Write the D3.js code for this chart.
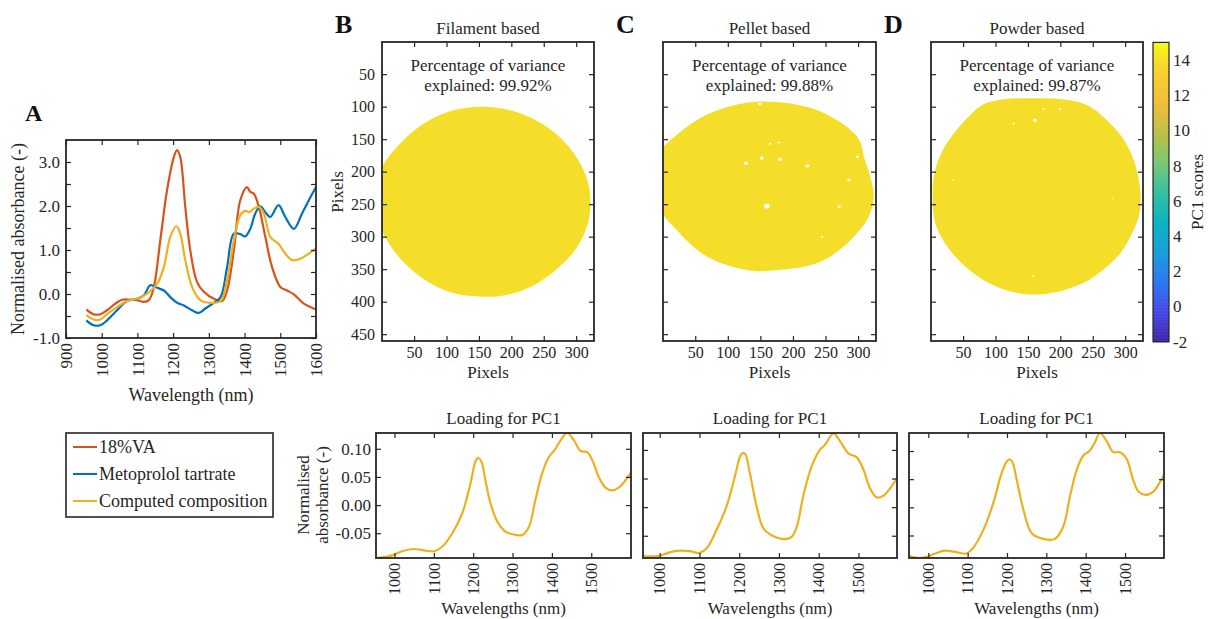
<!DOCTYPE html>
<html><head><meta charset="utf-8">
<script src="https://cdn.jsdelivr.net/npm/d3@7"></script>
<style>
html,body{margin:0;padding:0;background:#fff;}
svg{display:block;}
svg text{font-family:"Liberation Serif","DejaVu Serif",serif;}
</style></head><body>
<svg id="fig" width="1210" height="619" font-family="Liberation Serif, DejaVu Serif, serif"></svg>
<script>
// ---------------- DATA ----------------
const legendLabels = ["18%VA", "Metoprolol tartrate", "Computed composition"];
const wavelengthTicksA = [900, 1000, 1100, 1200, 1300, 1400, 1500, 1600];
const absorbanceTicksA = [-1, -0.5, 0, 0.5, 1, 1.5, 2, 2.5, 3];

const vaSpectrum = [[957,-0.35],[977,-0.46],[996,-0.46],[1015,-0.37],[1038,-0.22],[1057,-0.13],[1080,-0.13],[1099,-0.14],[1118,-0.18],[1132,-0.14],[1146,0.16],[1164,1.22],[1183,2.36],[1202,3.11],[1211,3.27],[1220,3.11],[1234,1.98],[1248,0.99],[1267,0.27],[1286,0.05],[1314,-0.11],[1337,-0.16],[1351,0.08],[1370,0.99],[1388,2.13],[1407,2.43],[1416,2.32],[1426,2.28],[1440,1.98],[1458,1.30],[1477,0.61],[1500,0.16],[1519,0.08],[1538,-0.01],[1566,-0.22],[1600,-0.35]];
const metoprololSpectrum = [[957,-0.60],[977,-0.71],[996,-0.71],[1015,-0.60],[1043,-0.37],[1071,-0.16],[1099,-0.11],[1118,-0.03],[1136,0.20],[1155,0.14],[1174,0.08],[1192,-0.07],[1211,-0.20],[1230,-0.26],[1253,-0.37],[1272,-0.43],[1290,-0.33],[1314,-0.20],[1333,-0.07],[1351,0.61],[1370,1.37],[1388,1.36],[1402,1.31],[1416,1.48],[1430,1.83],[1444,1.99],[1458,1.86],[1472,1.75],[1495,2.02],[1514,1.75],[1538,1.48],[1561,1.83],[1580,2.13],[1600,2.43]];
const computedSpectrum = [[957,-0.48],[977,-0.58],[996,-0.58],[1015,-0.46],[1043,-0.30],[1071,-0.16],[1099,-0.11],[1127,0.01],[1155,0.23],[1174,0.61],[1192,1.30],[1209,1.54],[1220,1.37],[1234,0.77],[1253,0.16],[1276,-0.14],[1304,-0.20],[1333,-0.16],[1351,0.31],[1370,1.22],[1388,1.79],[1402,1.89],[1414,1.86],[1426,1.94],[1440,1.98],[1454,1.83],[1472,1.30],[1495,1.14],[1514,0.92],[1533,0.77],[1556,0.80],[1580,0.92],[1600,1.03]];

const panelTitles = ["Filament based", "Pellet based", "Powder based"];
const panelLetters = ["B", "C", "D"];
const varianceExplained = ["99.92%", "99.88%", "99.87%"];
const pcScores = [14.0, 14.0, 14.0];
const pixelTicksX = [50, 100, 150, 200, 250, 300];
const pixelTicksY = [50, 100, 150, 200, 250, 300, 350, 400, 450];

// sample outlines (image pixel coordinates)
const filamentOutline = [[155,100],[200,106],[240,122],[275,147],[302,180],[318,215],[322,245],[318,280],[300,318],[270,350],[230,377],[190,390],[150,392],[105,385],[65,365],[30,335],[5,300],[-10,260],[-12,225],[2,190],[30,155],[65,126],[105,107]];
const pelletOutline = [[149,92],[196,95],[237,105],[268,121],[294,141],[304,156],[309,177],[317,202],[324,233],[322,253],[314,274],[299,294],[278,315],[253,333],[222,345],[180,351],[144,353],[103,345],[67,330],[41,310],[21,289],[3,269],[-10,240],[-14,210],[-10,175],[15,149],[41,128],[72,110],[108,98]];
const powderOutline = [[110,89],[148,87],[215,90],[246,100],[277,126],[298,151],[313,182],[321,212],[324,243],[321,269],[311,294],[293,325],[267,350],[236,371],[195,385],[154,389],[112,381],[76,363],[45,338],[22,310],[7,279],[3,243],[5,207],[14,177],[32,146],[62,112],[80,97]];
const filamentHoles = [];
const pelletHoles = [[128,187,2.5],[152,179,2.5],[180,181,2.5],[222,191,2.5],[160,253,3.5],[299,177,2],[286,213,2],[271,254,2],[245,300,1.5],[149,96,2],[165,157,1.5],[178,155,1.5]];
const powderHoles = [[161,121,2.5],[128,126,1.5],[199,103,1.5],[174,103,1.5],[35,213,1.2],[280,241,1.2],[158,361,1.5]];

const colorbarTicks = [-2, 0, 2, 4, 6, 8, 10, 12, 14];

const loadingTicksX = [1000, 1100, 1200, 1300, 1400, 1500];
const loadingTicksY = [-0.05, 0, 0.05, 0.10];
const loadingFilament = [[953,-0.094],[977,-0.092],[1000,-0.088],[1019,-0.082],[1049,-0.078],[1079,-0.081],[1100,-0.082],[1121,-0.074],[1147,-0.050],[1172,-0.015],[1193,0.038],[1206,0.078],[1213,0.084],[1222,0.075],[1231,0.044],[1244,0.003],[1261,-0.029],[1282,-0.047],[1308,-0.053],[1325,-0.053],[1342,-0.038],[1358,0.009],[1375,0.056],[1392,0.085],[1409,0.100],[1422,0.115],[1439,0.128],[1456,0.115],[1473,0.096],[1490,0.094],[1503,0.079],[1519,0.050],[1536,0.031],[1553,0.026],[1570,0.031],[1587,0.044],[1602,0.059]];
const loadingPellet = [[958,-0.086],[1000,-0.085],[1025,-0.079],[1050,-0.076],[1076,-0.077],[1101,-0.080],[1118,-0.072],[1143,-0.040],[1168,0.001],[1189,0.053],[1203,0.090],[1210,0.095],[1216,0.092],[1227,0.059],[1244,0.001],[1261,-0.037],[1286,-0.051],[1311,-0.056],[1332,-0.052],[1345,-0.034],[1361,0.019],[1382,0.071],[1403,0.100],[1416,0.109],[1437,0.129],[1454,0.115],[1475,0.094],[1496,0.087],[1513,0.065],[1529,0.033],[1546,0.017],[1563,0.020],[1580,0.033],[1597,0.051]];
const loadingPowder = [[951,-0.086],[979,-0.090],[1000,-0.087],[1021,-0.081],[1042,-0.077],[1068,-0.079],[1097,-0.082],[1114,-0.072],[1140,-0.040],[1165,0.007],[1186,0.060],[1200,0.082],[1207,0.085],[1214,0.080],[1225,0.048],[1242,-0.005],[1263,-0.046],[1292,-0.056],[1322,-0.056],[1343,-0.034],[1360,0.019],[1377,0.066],[1394,0.092],[1411,0.101],[1424,0.116],[1436,0.132],[1453,0.118],[1470,0.098],[1487,0.098],[1504,0.086],[1521,0.048],[1534,0.028],[1551,0.022],[1572,0.028],[1589,0.045],[1599,0.058]];

// ---------------- STYLE ----------------
const INK = "#262626";
const FONT = "'Liberation Serif', 'DejaVu Serif', serif";
const seriesColors = ["#D95319", "#0072BD", "#EDB120"];
const parulaStops = [[0.00,"#3e26a8"],[0.10,"#4648e6"],[0.20,"#2d78f0"],[0.30,"#1c9fdc"],[0.40,"#0cb4c2"],[0.50,"#35bfa0"],[0.60,"#78c872"],[0.70,"#bdc043"],[0.80,"#f4bb3b"],[0.90,"#f6d130"],[0.95,"#f5e127"],[1.00,"#f9fb0e"]];

const svg = d3.select("#fig");
let clipId = 0;

function makePanel(o) {
  const x = d3.scaleLinear().domain(o.xDomain).range([o.x0, o.x1]);
  const y = d3.scaleLinear().domain(o.yDomain).range(o.yReverse ? [o.y0, o.y1] : [o.y1, o.y0]);
  const g = svg.append("g");
  const id = "clip" + (clipId++);
  svg.append("clipPath").attr("id", id).append("rect")
    .attr("x", o.x0).attr("y", o.y0).attr("width", o.x1 - o.x0).attr("height", o.y1 - o.y0);
  const plot = g.append("g").attr("clip-path", `url(#${id})`);
  const tl = o.tickLen || 5;
  const style = sel => sel.attr("font-family", FONT).attr("color", INK).call(s => s.select(".domain").remove());
  const bx = g.append("g").attr("transform", `translate(0,${o.y1})`)
    .call(d3.axisBottom(x).tickValues(o.xTicks).tickSize(-tl).tickSizeOuter(0).tickPadding(6)
      .tickFormat(o.xFmt || (() => ""))).call(style).attr("font-size", o.xFont || 16);
  if (o.rotateX) {
    bx.selectAll("text").attr("transform", "rotate(-90)").attr("x", -5).attr("y", 0)
      .attr("dy", "0.33em").style("text-anchor", "end");
  }
  g.append("g").attr("transform", `translate(0,${o.y0})`)
    .call(d3.axisTop(x).tickValues(o.xTicks).tickSize(-tl).tickSizeOuter(0).tickFormat(() => "")).call(style);
  g.append("g").attr("transform", `translate(${o.x0},0)`)
    .call(d3.axisLeft(y).tickValues(o.yTicks).tickSize(-tl).tickSizeOuter(0).tickPadding(o.yPad || 7)
      .tickFormat(o.yFmt || (() => ""))).call(style).attr("font-size", o.yFont || 16);
  g.append("g").attr("transform", `translate(${o.x1},0)`)
    .call(d3.axisRight(y).tickValues(o.yTicks).tickSize(-tl).tickSizeOuter(0).tickFormat(() => "")).call(style);
  g.selectAll(".tick line").attr("stroke-width", 1.2);
  g.append("rect").attr("class", "frame").attr("x", o.x0).attr("y", o.y0).attr("width", o.x1 - o.x0).attr("height", o.y1 - o.y0)
    .attr("fill", "none").attr("stroke", INK).attr("stroke-width", 1.8);
  return { x, y, g, plot };
}

function txt(x, y, s, size, opts = {}) {
  const t = svg.append("text").attr("x", x).attr("y", y).attr("font-size", size)
    .attr("font-family", FONT)
    .attr("fill", opts.fill || INK).attr("text-anchor", opts.anchor || "middle").text(s);
  if (opts.bold) t.attr("font-weight", "bold");
  if (opts.rotate) t.attr("transform", `rotate(${opts.rotate},${x},${y})`);
  return t;
}

// ---------------- PANEL A ----------------
const A = makePanel({ x0: 66, x1: 316, y0: 140, y1: 338, xDomain: [900, 1600], yDomain: [-1, 3.5],
  xTicks: wavelengthTicksA, yTicks: absorbanceTicksA, rotateX: true,
  xFmt: d => String(d), yFmt: d => Math.abs(d - Math.round(d)) < 1e-9 ? d.toFixed(1) : "",
  xFont: 17, yFont: 17, tickLen: 5, yPad: 6 });
const lineA = d3.line().x(d => A.x(d[0])).y(d => A.y(d[1])).curve(d3.curveCatmullRom.alpha(0.5));
[vaSpectrum, metoprololSpectrum, computedSpectrum].forEach((s, i) => {
  A.plot.append("path").attr("d", lineA(s)).attr("fill", "none").attr("stroke", seriesColors[i]).attr("stroke-width", 2.2);
});
txt(25, 121, "A", 24, { bold: true, anchor: "start", fill: "#111" });
txt(191, 401, "Wavelength (nm)", 18);
txt(24, 239, "Normalised absorbance (-)", 18, { rotate: -90 });

// legend
svg.append("rect").attr("x", 66).attr("y", 433).attr("width", 207).attr("height", 84)
  .attr("fill", "#fff").attr("stroke", INK).attr("stroke-width", 1.6);
legendLabels.forEach((lab, i) => {
  const yy = 447 + i * 27;
  svg.append("line").attr("x1", 73).attr("x2", 97).attr("y1", yy).attr("y2", yy)
    .attr("stroke", seriesColors[i]).attr("stroke-width", 2);
  txt(99, yy + 6, lab, 18, { anchor: "start" });
});

// ---------------- COLOR MAP ----------------
const cmin = -2, cmax = 15;
const color = d3.scaleLinear()
  .domain(parulaStops.map(s => cmin + s[0] * (cmax - cmin)))
  .range(parulaStops.map(s => s[1])).interpolate(d3.interpolateRgb);

// ---------------- PANELS B, C, D ----------------
const imgBoxes = [[382, 594], [663, 876], [931, 1143]];
const outlines = [filamentOutline, pelletOutline, powderOutline];
const holes = [filamentHoles, pelletHoles, powderHoles];
imgBoxes.forEach((bx, i) => {
  const P = makePanel({ x0: bx[0], x1: bx[1], y0: 42, y1: 341, xDomain: [0.5, 327.5], yDomain: [0.5, 460.5],
    yReverse: true, xTicks: pixelTicksX, yTicks: pixelTicksY,
    xFmt: d => String(d), yFmt: i === 0 ? (d => String(d)) : null, xFont: 16, yFont: 16, tickLen: 5 });
  const shape = d3.line().x(d => P.x(d[0])).y(d => P.y(d[1])).curve(d3.curveCatmullRomClosed.alpha(0.5));
  P.plot.append("path").attr("d", shape(outlines[i])).attr("fill", color(pcScores[i])).attr("stroke", "none");
  const k = P.x(1) - P.x(0);
  P.plot.selectAll("ellipse.h").data(holes[i]).join("ellipse")
    .attr("cx", d => P.x(d[0])).attr("cy", d => P.y(d[1]))
    .attr("rx", d => d[2] * k * 1.2).attr("ry", d => d[2] * k).attr("fill", "#fff");
  P.g.selectAll(".tick").raise();
  P.g.select("rect.frame").raise();
  const cx = (bx[0] + bx[1]) / 2;
  txt(cx, 71, "Percentage of variance", 17);
  txt(cx, 91, "explained: " + varianceExplained[i], 17);
  txt(cx, 34, panelTitles[i], 17);
  txt(cx, 378, "Pixels", 17);
  txt(bx[0] - 47, 33, panelLetters[i], 26, { bold: true, anchor: "start", fill: "#111" });
});
txt(343, 192, "Pixels", 17, { rotate: -90 });

// colorbar
const cb = { x0: 1153, x1: 1169, y0: 42.4, y1: 341.7 };
const cy = d3.scaleLinear().domain([cmin, cmax]).range([cb.y1, cb.y0]);
const steps = d3.range(0, 200);
svg.append("g").selectAll("rect").data(steps).join("rect")
  .attr("x", cb.x0).attr("width", cb.x1 - cb.x0)
  .attr("y", d => cy(cmin + (d + 1) * (cmax - cmin) / 200))
  .attr("height", (cb.y1 - cb.y0) / 200 + 0.6)
  .attr("fill", d => color(cmin + (d + 0.5) * (cmax - cmin) / 200));
svg.append("rect").attr("x", cb.x0).attr("y", cb.y0).attr("width", cb.x1 - cb.x0).attr("height", cb.y1 - cb.y0)
  .attr("fill", "none").attr("stroke", INK).attr("stroke-width", 1.2);
svg.append("g").attr("transform", `translate(${cb.x1},0)`)
  .call(d3.axisRight(cy).tickValues(colorbarTicks).tickSize(0).tickPadding(4).tickFormat(d => String(d)))
  .attr("font-family", FONT).attr("font-size", 17).attr("color", INK)
  .call(s => s.select(".domain").remove());
txt(1203, 192, "PC1 scores", 17, { rotate: -90 });

// ---------------- LOADING PANELS ----------------
const loadBoxes = [
  { x0: 376, x1: 631, xDomain: [953, 1601], yDomain: [-0.094, 0.128], data: loadingFilament, labels: true },
  { x0: 643, x1: 897, xDomain: [958, 1597], yDomain: [-0.0889, 0.1296], data: loadingPellet, labels: false },
  { x0: 909, x1: 1164, xDomain: [951, 1599], yDomain: [-0.090, 0.132], data: loadingPowder, labels: false }
];
loadBoxes.forEach(b => {
  const L = makePanel({ x0: b.x0, x1: b.x1, y0: 433, y1: 558, xDomain: b.xDomain, yDomain: b.yDomain,
    xTicks: loadingTicksX, yTicks: loadingTicksY, rotateX: true,
    xFmt: d => String(d), yFmt: b.labels ? (d => d.toFixed(2)) : null, xFont: 16, yFont: 17, tickLen: 5, yPad: 5 });
  const ln = d3.line().x(d => L.x(d[0])).y(d => L.y(d[1])).curve(d3.curveCatmullRom.alpha(0.5));
  L.plot.append("path").attr("d", ln(b.data)).attr("fill", "none").attr("stroke", seriesColors[2]).attr("stroke-width", 2.2);
  const cx = (b.x0 + b.x1) / 2;
  txt(cx, 424, "Loading for PC1", 17);
  txt(cx, 614, "Wavelengths (nm)", 17);
});
txt(309, 495, "Normalised", 17, { rotate: -90 });
txt(328, 495, "absorbance (-)", 17, { rotate: -90 });
</script>
</body></html>
